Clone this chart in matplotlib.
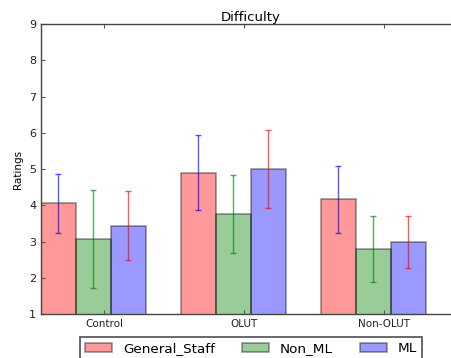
import numpy as np
import matplotlib
matplotlib.use("Agg")
import matplotlib.pyplot as plt

groups = ["Control", "OLUT", "Non-OLUT"]
series = ["General_Staff", "Non_ML", "ML"]
means = {
    "General_Staff": [4.05, 4.90, 4.16],
    "Non_ML": [3.06, 3.75, 2.79],
    "ML": [3.44, 5.00, 2.99],
}
errs = {
    "General_Staff": [0.82, 1.03, 0.92],
    "Non_ML": [1.35, 1.08, 0.91],
    "ML": [0.96, 1.08, 0.71],
}
bar_colors = ["red", "green", "blue"]
err_colors = ["blue", "green", "red"]

ind = np.arange(len(groups))
width = 0.25

fig = plt.figure(figsize=(4.51, 3.58), dpi=100)
ax = fig.add_axes([0.0909, 0.1229, 0.931, 0.810])

for i, name in enumerate(series):
    x = ind + i * width
    ax.bar(x, means[name], width, align="edge", bottom=0,
           color=bar_colors[i], alpha=0.4, edgecolor="black",
           linewidth=1.2, label=name)
    ax.errorbar(x + width / 2, means[name], yerr=errs[name], fmt="none",
                ecolor=err_colors[i], elinewidth=1.0, capsize=2.5,
                alpha=0.65)

ax.set_xlim(0, 3)
ax.set_ylim(1, 9)
ax.set_yticks(range(1, 10))
ax.set_xticks(ind + 0.45)
ax.set_xticklabels(groups, fontsize=7.5)
ax.tick_params(axis="y", labelsize=8)
ax.tick_params(direction="in", top=True, right=True, length=3,
               colors="#555555", labelcolor="#222222")
for s in ax.spines.values():
    s.set_color("#444444")
    s.set_linewidth(1.0)
ax.set_ylabel("Ratings", fontsize=7.5)
ax.set_title("Difficulty", fontsize=9.5, pad=2)

leg = ax.legend(loc="upper center", bbox_to_anchor=(0.5, -0.078), ncol=3,
                fontsize=9.7, fancybox=False, frameon=True,
                borderaxespad=0, columnspacing=2.0)
leg.get_frame().set_edgecolor("#222222")
leg.get_frame().set_linewidth(1.2)

fig.savefig("out.png", dpi=100)
